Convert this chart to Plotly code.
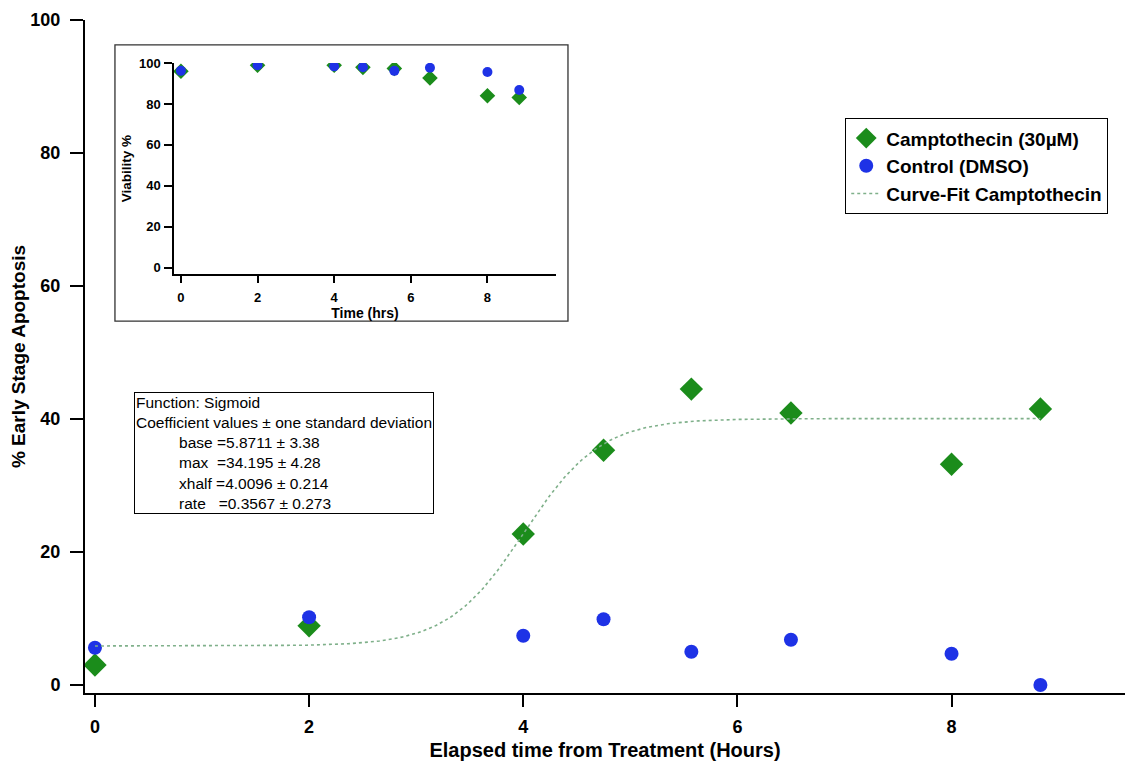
import numpy as np
import plotly.graph_objects as go

# ---- data ----
time_h = [0, 2, 4, 4.75, 5.57, 6.5, 8, 8.83]
campto_apop = [3.0, 8.9, 22.7, 35.3, 44.5, 40.9, 33.2, 41.5]
control_apop = [5.6, 10.2, 7.4, 9.9, 5.0, 6.8, 4.7, 0.0]
campto_viab = [96.0, 98.9, 98.9, 97.9, 97.4, 92.7, 84.0, 83.2]
control_viab = [96.2, 98.9, 98.4, 98.0, 96.2, 97.7, 95.6, 86.8]
fit_base, fit_max, fit_xhalf, fit_rate = 5.8711, 34.195, 4.0096, 0.3567
main_ticks = [0, 2, 4, 6, 8]
main_yticks = [0, 20, 40, 60, 80, 100]

GREEN = "#1b8c1b"
BLUE = "#1e32e6"
FITC = "#7fb08a"
FONT = "Liberation Sans, Arial, sans-serif"

fit_x = np.linspace(min(time_h), max(time_h), 300)
fit_y = fit_base + fit_max / (1 + np.exp((fit_xhalf - fit_x) / fit_rate))

fig = go.Figure()
fig.add_trace(go.Scatter(x=time_h, y=campto_apop, mode="markers", name="Camptothecin (30µM)",
                         marker=dict(symbol="diamond", size=18, color=GREEN)))
fig.add_trace(go.Scatter(x=time_h, y=control_apop, mode="markers", name="Control (DMSO)",
                         marker=dict(symbol="circle", size=14, color=BLUE)))
fig.add_trace(go.Scatter(x=fit_x, y=fit_y, mode="lines", name="Curve-Fit Camptothecin",
                         line=dict(color=FITC, width=1.6, dash="dot")))

# inset traces
fig.add_trace(go.Scatter(x=time_h, y=campto_viab, mode="markers", showlegend=False,
                         xaxis="x2", yaxis="y2",
                         marker=dict(symbol="diamond", size=12, color=GREEN)))
fig.add_trace(go.Scatter(x=time_h, y=control_viab, mode="markers", showlegend=False,
                         xaxis="x2", yaxis="y2",
                         marker=dict(symbol="circle", size=10, color=BLUE)))

fig.update_layout(
    template="none",
    width=1130, height=756,
    margin=dict(l=77, r=13, t=12, b=71),
    paper_bgcolor="white", plot_bgcolor="white",
    font=dict(family=FONT, color="black"),
    xaxis=dict(range=[-0.093, 9.62], tickvals=main_ticks, showgrid=False, zeroline=False,
               automargin=False,
               showline=True, linecolor="black", linewidth=2, ticks="outside", ticklen=12,
               tickwidth=2, tickcolor="black", ticklabelstandoff=4,
               tickfont=dict(family=FONT, size=18, color="black", weight="bold"),
               title=dict(text="<b>Elapsed time from Treatment (Hours)</b>",
                          font=dict(family=FONT, size=20), standoff=7)),
    yaxis=dict(range=[-1.2, 100], tickvals=main_yticks, showgrid=False, zeroline=False,
               automargin=False,
               showline=True, linecolor="black", linewidth=2, ticks="outside", ticklen=13,
               tickwidth=2, tickcolor="black", ticklabelstandoff=6,
               tickfont=dict(family=FONT, size=18, color="black", weight="bold"),
               title=dict(text="<b>% Early Stage Apoptosis</b>",
                          font=dict(family=FONT, size=19), standoff=8)),
    xaxis2=dict(domain=[0.0856, 0.4529], anchor="y2", range=[-0.18, 9.79], tickvals=main_ticks,
                automargin=False,
                showgrid=False, zeroline=False, showline=True, linecolor="black", linewidth=1.5,
                ticks="outside", ticklen=7, tickwidth=1.5, tickcolor="black", ticklabelstandoff=4,
                tickfont=dict(family=FONT, size=13, color="black", weight="bold"),
                title=dict(text="<b>Time (hrs)</b>", font=dict(family=FONT, size=14), standoff=3)),
    yaxis2=dict(domain=[0.6226, 0.936], anchor="x2", range=[-3.1, 100], tickvals=main_yticks,
                automargin=False,
                showgrid=False, zeroline=False, showline=True, linecolor="black", linewidth=1.5,
                ticks="outside", ticklen=8, tickwidth=1.5, tickcolor="black", ticklabelstandoff=1,
                tickfont=dict(family=FONT, size=13, color="black", weight="bold"),
                title=dict(text="<b>Viability %</b>", font=dict(family=FONT, size=13.5), standoff=4)),
    legend=dict(x=0.731, y=0.854, xanchor="left", yanchor="top", bgcolor="white",
                bordercolor="black", borderwidth=1,
                font=dict(family=FONT, size=19, color="black", weight="bold"),
                itemsizing="trace", tracegroupgap=0),
    shapes=[dict(type="rect", xref="paper", yref="paper", x0=0.0288, x1=0.4644, y0=0.5527, y1=0.9629,
                 line=dict(color="#333", width=1.3), fillcolor="rgba(0,0,0,0)", layer="below")],
)

nb = "\u00a0"
ind = nb * 10
box_text = ("Function: Sigmoid<br>"
            "Coefficient values ± one standard deviation<br>"
            f"{ind}base{nb}=5.8711 ± 3.38<br>"
            f"{ind}max{nb}{nb}=34.195 ± 4.28<br>"
            f"{ind}xhalf{nb}=4.0096 ± 0.214<br>"
            f"{ind}rate{nb}{nb}{nb}=0.3567 ± 0.273")
fig.add_annotation(xref="paper", yref="paper", x=(134 - 85) / 1040, y=(693 - 392) / 673,
                   xanchor="left", yanchor="top", align="left", showarrow=False,
                   text=box_text, font=dict(family=FONT, size=15.5, color="black"),
                   bordercolor="black", borderwidth=1, borderpad=1, bgcolor="white")

fig.write_html("out.html")
